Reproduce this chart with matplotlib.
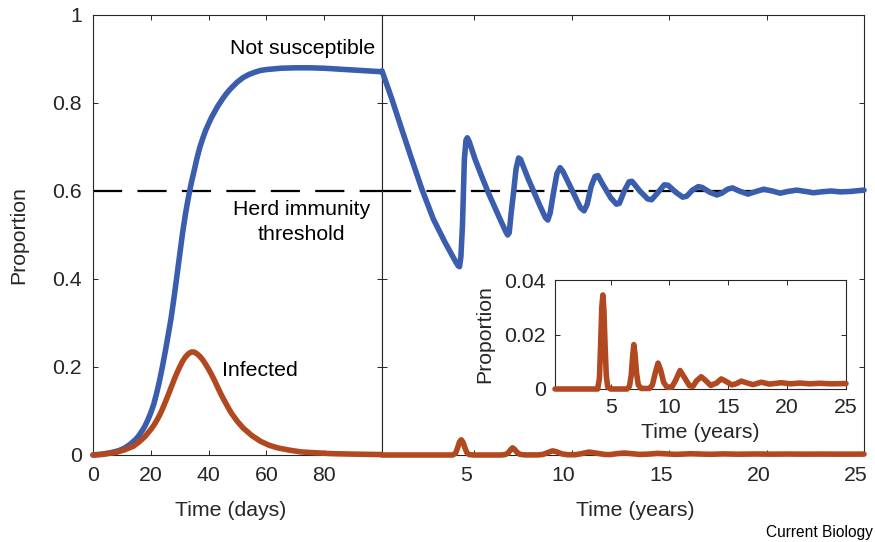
import matplotlib
matplotlib.use("Agg")
import matplotlib.pyplot as plt
import matplotlib.transforms as mtransforms

plt.rcParams['font.family'] = ['Liberation Sans', 'DejaVu Sans']
plt.rcParams['lines.scale_dashes'] = False

# ---- data ----
# first 100 days (left panel)
days = [0, 3, 6, 9, 11, 13, 15, 16, 17, 18, 19, 20, 21, 22, 23, 24, 25, 26, 27, 28,
        29, 30, 31, 32, 33, 34, 35, 36, 37, 38, 39, 40, 41, 42, 43, 44, 45, 46, 47,
        48, 50, 52, 54, 56, 58, 60, 65, 70, 75, 80, 85, 90, 95, 100]
not_susc_days = [0.0, 0.002, 0.005, 0.01, 0.016, 0.025, 0.037, 0.045, 0.055, 0.066,
                 0.08, 0.096, 0.115, 0.14, 0.168, 0.2, 0.235, 0.272, 0.31, 0.356,
                 0.405, 0.455, 0.505, 0.548, 0.585, 0.618, 0.646, 0.675, 0.7, 0.72,
                 0.738, 0.753, 0.767, 0.779, 0.791, 0.801, 0.811, 0.82, 0.828, 0.835,
                 0.848, 0.858, 0.865, 0.87, 0.874, 0.876, 0.879, 0.88, 0.88, 0.879,
                 0.877, 0.875, 0.873, 0.871]

days_inf = [0, 3, 5, 8, 11, 14, 16, 18, 20, 21, 22, 23, 24, 25, 26, 27, 28, 29, 30,
            31, 32, 33, 34, 35, 36, 37, 38, 39, 40, 41, 42, 43, 44, 45, 46, 47, 48,
            50, 52, 55, 58, 61, 64, 68, 72, 77, 83, 90, 100]
infected_days = [0.0, 0.001, 0.003, 0.006, 0.012, 0.02, 0.03, 0.042, 0.058, 0.067,
                 0.078, 0.09, 0.104, 0.12, 0.136, 0.153, 0.17, 0.186, 0.2, 0.213,
                 0.223, 0.23, 0.234, 0.234, 0.23, 0.224, 0.216, 0.206, 0.195, 0.183,
                 0.17, 0.156, 0.142, 0.129, 0.117, 0.105, 0.094, 0.076, 0.061, 0.044,
                 0.031, 0.022, 0.016, 0.011, 0.007, 0.005, 0.003, 0.002, 0.001]

# long term (right panel), time in years
years = [0.274, 0.78, 1.29, 1.8, 2.32, 2.91, 3.51, 4.03, 4.18, 4.25, 4.32, 4.4, 4.5,
         4.58, 4.65, 4.75, 5.05, 5.4, 5.73, 6.33, 6.62, 6.72, 6.8, 6.9, 7.02, 7.15,
         7.28, 7.38, 7.78, 8.38, 8.65, 8.78, 8.9, 9.07, 9.25, 9.41, 9.55, 10.0,
         10.45, 10.64, 10.8, 11.0, 11.2, 11.35, 11.6, 12.0, 12.3, 12.45, 12.7,
         12.95, 13.1, 13.5, 13.9, 14.1, 14.4, 14.75, 14.95, 15.35, 15.7, 15.9,
         16.2, 16.5, 16.7, 17.1, 17.45, 17.7, 18.0, 18.25, 18.6, 19.05, 19.4,
         19.85, 20.3, 20.7, 21.1, 21.55, 22.0, 22.4, 22.8, 23.3, 23.8, 24.3, 25.0]
not_susc_years = [0.873, 0.809, 0.74, 0.672, 0.604, 0.536, 0.483, 0.441, 0.43, 0.428,
                  0.45, 0.52, 0.672, 0.715, 0.721, 0.712, 0.672, 0.632, 0.596,
                  0.536, 0.508, 0.5, 0.505, 0.55, 0.596, 0.65, 0.675, 0.672, 0.627,
                  0.566, 0.54, 0.534, 0.55, 0.596, 0.64, 0.653, 0.645, 0.604, 0.562,
                  0.555, 0.57, 0.61, 0.633, 0.635, 0.615, 0.585, 0.57, 0.572, 0.6,
                  0.621, 0.622, 0.6, 0.582, 0.58, 0.595, 0.614, 0.613, 0.597, 0.586,
                  0.588, 0.602, 0.61, 0.608, 0.597, 0.591, 0.595, 0.604, 0.607, 0.6,
                  0.593, 0.598, 0.604, 0.6, 0.595, 0.599, 0.602, 0.599, 0.596, 0.598,
                  0.6, 0.598, 0.599, 0.602]

years_inf = [0.274, 3.9, 4.05, 4.15, 4.25, 4.34, 4.43, 4.53, 4.63, 4.75, 5.0, 6.4, 6.6,
             6.75, 6.87, 6.97, 7.07, 7.2, 7.35, 7.6, 8.3, 8.55, 8.8, 9.03, 9.25, 9.5,
             9.8, 10.2, 10.5, 10.9, 11.3, 11.7, 12.0, 12.3, 12.7, 13.1, 13.5, 14.0,
             14.4, 14.8, 15.3, 15.7, 16.1, 16.6, 17.1, 17.8, 18.5, 19.5, 20.3, 21.1,
             21.9, 22.8, 23.7, 25.0]
infected_years = [0.0, 0.0, 0.004, 0.016, 0.03, 0.0345, 0.029, 0.016, 0.005, 0.0008,
                  0.0, 0.0, 0.001, 0.005, 0.012, 0.0163, 0.013, 0.006, 0.0015, 0.0002,
                  0.0002, 0.0015, 0.006, 0.0095, 0.007, 0.0025, 0.0006, 0.0007, 0.003,
                  0.0068, 0.004, 0.0012, 0.001, 0.003, 0.0045, 0.003, 0.0013, 0.0022,
                  0.0037, 0.0028, 0.0015, 0.002, 0.0029, 0.0022, 0.0016, 0.0025,
                  0.0018, 0.0023, 0.0019, 0.0022, 0.0019, 0.0021, 0.0019, 0.002]

herd_threshold = 0.6
prop_ticks = [0, 0.2, 0.4, 0.6, 0.8, 1]
day_ticks = [0, 20, 40, 60, 80]
year_ticks = [5, 10, 15, 20, 25]
inset_ticks = [0, 0.02, 0.04]

BLUE = '#3b5dae'
RED = '#b1481f'
AX = '#262626'
FS = 15.3
LW = 4.0


def style(ax, pad=7):
    ax.tick_params(direction='in', top=True, right=True, length=3.6, width=0.7,
                   color=AX, labelcolor=AX, labelsize=FS, pad=pad)
    for s in ax.spines.values():
        s.set_color(AX)
        s.set_linewidth(0.8)


def curve(ax, x, y, color, z):
    ax.plot(x, y, color=color, lw=LW, clip_on=False, solid_capstyle='round',
            solid_joinstyle='round', zorder=z)


fig = plt.figure(figsize=(8.75, 5.42), dpi=100)

# left panel: days
ax1 = fig.add_axes([93 / 875, 87 / 542, 289 / 875, 440 / 542])
curve(ax1, days, not_susc_days, BLUE, 3)
curve(ax1, days_inf, infected_days, RED, 4)
ax1.axhline(herd_threshold, color='k', lw=1.6, dashes=(21, 11), zorder=2)
ax1.set_xlim(0, 100)
ax1.set_ylim(0, 1)
ax1.set_xticks(day_ticks)
ax1.set_yticks(prop_ticks)
ax1.set_yticklabels(['%g' % v for v in prop_ticks])
style(ax1, pad=8)
ax1.set_xlabel('Time (days)', fontsize=FS, color=AX)
ax1.xaxis.set_label_coords(0.478, -0.105)
ax1.set_ylabel('Proportion', fontsize=FS, color=AX, labelpad=17)

ax1.text(72.5, 0.924, 'Not susceptible', fontsize=FS, ha='center', va='center')
ax1.text(72, 0.53, 'Herd immunity\nthreshold', fontsize=FS, ha='center',
         va='center', linespacing=1.38)
ax1.text(44.6, 0.193, 'Infected', fontsize=FS, ha='left', va='center')

# right panel: years
ax2 = fig.add_axes([382 / 875, 87 / 542, 482 / 875, 440 / 542])
curve(ax2, years, not_susc_years, BLUE, 3)
curve(ax2, years_inf, infected_years, RED, 4)
ax2.axhline(herd_threshold, color='k', lw=1.6, dashes=(21, 11), zorder=2)
ax2.set_xlim(100 / 365, 25)
ax2.set_ylim(0, 1)
ax2.set_xticks(year_ticks)
ax2.set_yticks(prop_ticks)
ax2.set_yticklabels([])
style(ax2, pad=8)
shift = mtransforms.ScaledTranslation(-8 / 100, 0, fig.dpi_scale_trans)
for lab in ax2.get_xticklabels():
    lab.set_transform(lab.get_transform() + shift)
ax2.set_xlabel('Time (years)', fontsize=FS, color=AX)
ax2.xaxis.set_label_coords(0.525, -0.105)

# inset
ax3 = fig.add_axes([555 / 875, 153 / 542, 291 / 875, 109 / 542])
curve(ax3, years_inf, infected_years, RED, 3)
ax3.set_xlim(100 / 365, 25)
ax3.set_ylim(0, 0.04)
ax3.set_xticks(year_ticks)
ax3.set_yticks(inset_ticks)
ax3.set_yticklabels(['%g' % v for v in inset_ticks])
style(ax3, pad=6.5)
ax3.set_xlabel('Time (years)', fontsize=FS, color=AX, labelpad=4)
ax3.set_ylabel('Proportion', fontsize=FS, color=AX, labelpad=7)

fig.text(873 / 875, 1 - 532 / 542, 'Current Biology', fontsize=11.2, ha='right',
         va='center')

fig.savefig('out.png', dpi=100)
